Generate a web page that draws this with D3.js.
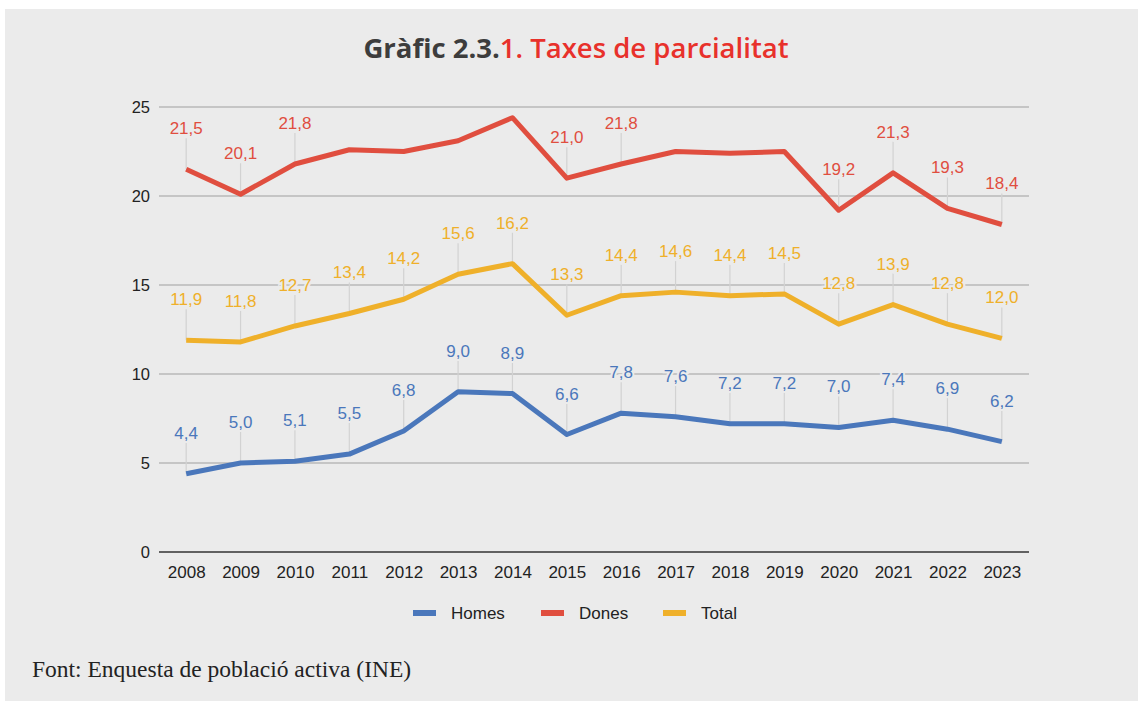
<!DOCTYPE html>
<html>
<head>
<meta charset="utf-8">
<script src="https://cdn.jsdelivr.net/npm/d3@7"></script>
<style>
  body { margin: 0; background: #fff; }
  svg { display: block; }
</style>
</head>
<body>
<div class="chart"></div>
<script>
// data
const years = ['2008','2009','2010','2011','2012','2013','2014','2015','2016','2017','2018','2019','2020','2021','2022','2023'];
const homes = [4.4, 5.0, 5.1, 5.5, 6.8, 9.0, 8.9, 6.6, 7.8, 7.6, 7.2, 7.2, 7.0, 7.4, 6.9, 6.2];
const dones = [21.5, 20.1, 21.8, 22.6, 22.5, 23.1, 24.4, 21.0, 21.8, 22.5, 22.4, 22.5, 19.2, 21.3, 19.3, 18.4];
const total = [11.9, 11.8, 12.7, 13.4, 14.2, 15.6, 16.2, 13.3, 14.4, 14.6, 14.4, 14.5, 12.8, 13.9, 12.8, 12.0];
// anys sense etiqueta a la serie de dones
const donesHidden = ['2011','2012','2013','2014','2017','2018','2019'];
const yTicks = [0, 5, 10, 15, 20, 25];

const series = [
  {name: 'Homes', values: homes, color: '#4a77bb', hidden: []},
  {name: 'Dones', values: dones, color: '#e04e3f', hidden: donesHidden},
  {name: 'Total', values: total, color: '#efb02a', hidden: []}
];

const W = 1138, H = 704;
const bg = '#ebebeb';
const fmt = d3.formatLocale({decimal: ',', thousands: '.', grouping: [3], currency: ['', '€']}).format('.1f');
const sans = '"Liberation Sans", Arial, sans-serif';

const svg = d3.select('.chart').append('svg')
  .attr('width', W).attr('height', H);

svg.append('rect')
  .attr('x', 5).attr('y', 9)
  .attr('width', W - 5).attr('height', 692)
  .attr('fill', bg);

// title
const title = svg.append('text')
  .attr('x', 576).attr('y', 58)
  .attr('text-anchor', 'middle')
  .style('font-family', '"Open Sans", sans-serif')
  .style('font-size', '27.5px');
title.append('tspan').text('Gràfic 2.3.')
  .attr('font-weight', 700).attr('fill', '#3d3d3d');
title.append('tspan').text('1. Taxes de parcialitat')
  .attr('font-weight', 600).attr('fill', '#e8312b');

// scales
const x = d3.scalePoint().domain(years).range([159, 1029]).padding(0.5);
const y = d3.scaleLinear().domain([0, 25]).range([552, 107]);

// grid
const grid = svg.append('g').attr('class', 'grid');
grid.selectAll('line')
  .data(yTicks)
  .enter()
  .append('line')
    .attr('x1', 159).attr('x2', 1029)
    .attr('y1', d => y(d)).attr('y2', d => y(d))
    .attr('stroke', d => d === 0 ? '#333' : '#b9b9b9')
    .attr('stroke-width', d => d === 0 ? 1.6 : 1.3);

// y axis labels
const yAxis = d3.axisLeft(y).tickValues(yTicks).tickSize(0).tickPadding(9);
const yAxisDraw = svg.append('g')
  .attr('transform', 'translate(159,0)')
  .call(yAxis);
yAxisDraw.select('.domain').remove();
yAxisDraw.selectAll('text')
  .style('font-family', sans)
  .style('font-size', '16.5px').attr('fill', '#222');

// x axis labels
const xAxis = d3.axisBottom(x).tickSize(0).tickPadding(14);
const xAxisDraw = svg.append('g')
  .attr('transform', 'translate(0,552)')
  .call(xAxis);
xAxisDraw.select('.domain').remove();
xAxisDraw.selectAll('text')
  .style('font-family', sans)
  .style('font-size', '17px').attr('fill', '#222');

// stems de les etiquetes
const labelData = series.flatMap(s =>
  s.values.map((v, i) => ({year: years[i], v: v, color: s.color}))
    .filter(d => !s.hidden.includes(d.year))
);

svg.append('g').selectAll('line')
  .data(labelData)
  .enter()
  .append('line')
    .attr('x1', d => x(d.year)).attr('x2', d => x(d.year))
    .attr('y1', d => y(d.v) - 31).attr('y2', d => y(d.v))
    .attr('stroke', '#d2d2d2').attr('stroke-width', 1.2);

// lines
const line = d3.line().x((d, i) => x(years[i])).y(d => y(d));
svg.append('g').selectAll('path')
  .data(series)
  .enter()
  .append('path')
    .attr('d', d => line(d.values))
    .attr('fill', 'none')
    .attr('stroke', d => d.color)
    .attr('stroke-width', 5)
    .attr('stroke-linejoin', 'round');

// labels
svg.append('g').selectAll('text')
  .data(labelData)
  .enter()
  .append('text')
    .attr('x', d => x(d.year))
    .attr('y', d => y(d.v) - 35)
    .attr('text-anchor', 'middle')
    .text(d => fmt(d.v))
    .attr('fill', d => d.color)
    .attr('stroke', bg).attr('stroke-width', 4)
    .attr('paint-order', 'stroke')
    .style('font-family', sans)
    .style('font-size', '17px');

// legend
const legendX = [413, 541, 663];
const legend = svg.append('g').selectAll('g')
  .data(series)
  .enter()
  .append('g')
    .attr('transform', (d, i) => `translate(${legendX[i]},613)`);
legend.append('rect')
  .attr('x', 0).attr('y', -3)
  .attr('width', 23).attr('height', 6)
  .attr('fill', d => d.color);
legend.append('text')
  .attr('x', 38).attr('y', 0).attr('dy', '0.35em')
  .text(d => d.name)
  .attr('fill', '#222')
  .style('font-family', sans)
  .style('font-size', '17px');

// font
svg.append('text')
  .attr('x', 32).attr('y', 677)
  .text('Font: Enquesta de població activa (INE)')
  .attr('fill', '#222')
  .style('font-family', '"Liberation Serif", serif')
  .style('font-size', '23.5px');
</script>
</body>
</html>
